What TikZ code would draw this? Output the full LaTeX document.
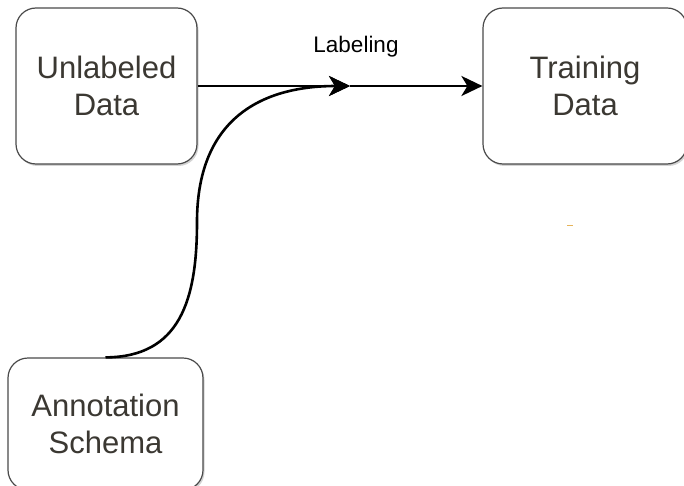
\documentclass[tikz,border=0pt]{standalone}
\usepackage{fontspec}
\setmainfont{Liberation Sans}
\usetikzlibrary{arrows.meta,shadows}

\definecolor{boxedge}{HTML}{4A4A4A}
\definecolor{boxtext}{HTML}{3B3832}
\definecolor{speck}{HTML}{E6B45A}

\tikzset{
  databox/.style={
    draw=boxedge, line width=1.2pt, fill=white, rounded corners=20pt,
    align=center, text=boxtext, inner sep=0pt,
    font=\fontsize{31}{37}\selectfont,
    drop shadow={shadow xshift=1.5pt, shadow yshift=-2pt, opacity=0.35, fill=gray}
  },
  flow/.style={
    draw=black, line width=2.6pt,
    -{Stealth[length=21pt, width=20pt, inset=6pt]}
  },
  caption/.style={font=\fontsize{22.5}{27}\selectfont, inner sep=0pt}
}

\begin{document}
\begin{tikzpicture}[x=1pt, y=-1pt]
  \useasboundingbox (0,0) rectangle (684,486);

  % the three data boxes
  \node[databox, minimum width=181pt, minimum height=156pt] (unl) at (106.5,86) {Unlabeled\\Data};
  \node[databox, minimum width=204pt, minimum height=156pt] (train) at (585,86) {Training\\Data};
  \node[databox, minimum width=195pt, minimum height=132pt] (ann) at (105.5,424) {Annotation\\Schema};

  % junction point on the labeling line
  \coordinate (mid) at (350,86);

  % labeling flow
  \draw[flow] (unl.east) -- (mid);
  \draw[flow] (mid) -- (train.west);
  \node[caption] (lab) at (356,47) {Labeling};

  % schema feeding into the labeling step
  \draw[flow] (ann.north) .. controls (180,357) and (197,300) .. (197,222)
                          .. controls (197,120) and (260,86) .. (mid);

  % small mark
  \draw[speck, line width=1pt] (567,225) -- (573,225);
\end{tikzpicture}
\end{document}
